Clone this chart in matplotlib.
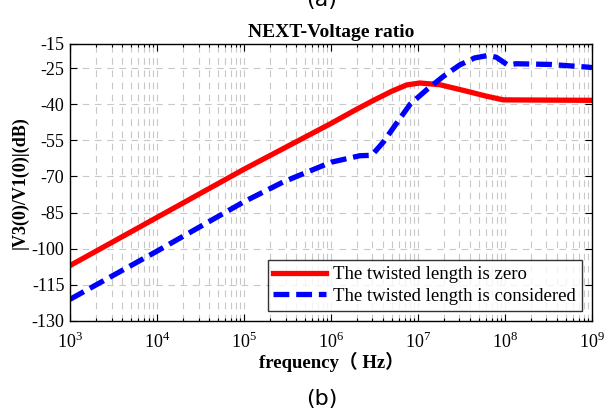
import numpy as np
import matplotlib
matplotlib.use('Agg')
import matplotlib.pyplot as plt
from matplotlib.ticker import LogLocator, FixedLocator, NullFormatter

plt.rcParams['font.family'] = ['Liberation Serif', 'Noto Sans CJK SC']
plt.rcParams['mathtext.fontset'] = 'custom'
plt.rcParams['mathtext.rm'] = 'Liberation Serif'

# courbe rouge : longueur torsadée nulle (log10 de la fréquence, dB)
red_logf = [3, 4, 5, 6, 6.3, 6.5, 6.7, 6.87, 7.02, 7.25, 7.56, 7.79, 7.98, 9]
red_db = [-107, -87, -67, -48, -42, -38.2, -34.6, -32.0, -31.2, -31.9, -34.6, -36.7, -38.2, -38.4]

# courbe bleue : longueur torsadée prise en compte
blue_logf = [3, 4, 5, 5.45, 6, 6.33, 6.47, 6.6, 6.76, 6.91, 7.1, 7.29, 7.48, 7.65,
             7.8, 7.9, 8.03, 8.13, 8.52, 8.95, 9]
blue_db = [-121, -101, -80.5, -72.3, -64.1, -61.4, -61.2, -55.8, -47.6, -40, -34, -28.5,
           -23.7, -20.8, -19.8, -20.5, -23.7, -23.2, -23.5, -24.6, -24.8]

y_ticks = [-130, -115, -100, -85, -70, -55, -40, -25, -15]
legend_labels = ['The twisted length is zero', 'The twisted length is considered']

fig = plt.figure(figsize=(6.04, 4.11), dpi=100)
ax = fig.add_axes([0.1159, 0.219, 0.8642, 0.674])

ax.plot(10.0 ** np.array(red_logf), red_db, color='#ff0000', lw=3.8,
        label=legend_labels[0], solid_joinstyle='round')
ax.plot(10.0 ** np.array(blue_logf), blue_db, color='#0000ff', lw=3.8,
        ls=(0, (3.0, 1.3)), label=legend_labels[1])

ax.set_xscale('log')
ax.set_xlim(1e3, 1e9)
ax.set_ylim(-130, -15)
ax.set_yticks(y_ticks)
ax.set_yticklabels([str(v) for v in y_ticks])
ax.xaxis.set_major_locator(FixedLocator([10.0 ** k for k in range(3, 10)]))
ax.set_xticklabels([r'$10^{%d}$' % k for k in range(3, 10)])
ax.xaxis.set_minor_locator(LogLocator(base=10, subs=np.arange(2, 10), numticks=50))
ax.xaxis.set_minor_formatter(NullFormatter())

ax.grid(True, which='major', axis='both', color='#c8c8c8', ls=(0, (6, 5)), lw=0.8)
ax.grid(True, which='minor', axis='x', color='#c8c8c8', ls=(0, (6, 5)), lw=0.8)
ax.set_axisbelow(True)

ax.tick_params(which='both', direction='in', top=True, right=True, labelsize=13,
               width=0.8, colors='black')
ax.tick_params(which='major', length=5)
ax.tick_params(which='minor', length=2.5)
ax.tick_params(axis='x', pad=8)
ax.tick_params(axis='y', pad=4)
for s in ax.spines.values():
    s.set_linewidth(1.0)

ax.set_title('NEXT-Voltage ratio', fontsize=14, fontweight='bold', pad=5)
ax.set_ylabel('|V3(0)/V1(0)|(dB)', fontsize=13, fontweight='bold', labelpad=2)
ax.set_xlabel('frequency（ Hz）', fontsize=13.5, fontweight='bold', labelpad=0)

leg = ax.legend(loc='lower right', fontsize=13.5, frameon=True, fancybox=False,
                edgecolor='black', handlelength=2.8, handletextpad=0.4,
                borderaxespad=0.55, labelspacing=0.25, borderpad=0.3)
leg.get_frame().set_linewidth(1.0)

fig.text(0.533, 1.0, '(a)', ha='center', va='center', fontsize=16, family='DejaVu Sans')
fig.text(0.533, 0.03, '(b)', ha='center', va='center', fontsize=16, family='DejaVu Sans')

fig.savefig('out.png', dpi=100)
